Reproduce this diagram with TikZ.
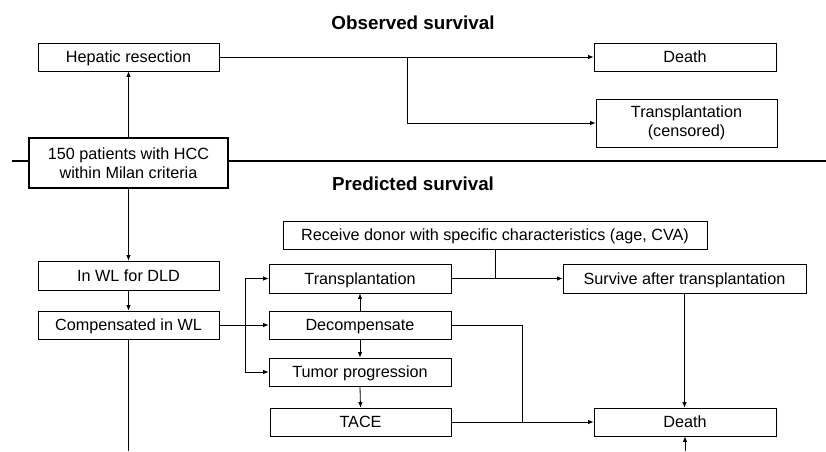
\documentclass[tikz,border=0pt]{standalone}
\usepackage{fontspec}
\setmainfont{Liberation Sans}
\usetikzlibrary{arrows.meta}
\begin{document}
\begin{tikzpicture}[x=1pt,y=-1pt,
  box/.style={draw, line width=0.8pt, inner sep=0pt, fill=white, align=center,
    font=\fontsize{16.2}{19}\selectfont},
  one/.style={box, text height=11.6pt, text depth=0pt},
  arr/.style={-{Latex[length=5.5pt,width=4.5pt]}, line width=0.8pt},
  ln/.style={line width=0.8pt},
  ttl/.style={font=\fontsize{18.8}{22}\selectfont\bfseries}]
\useasboundingbox (0,0) rectangle (826,451);
\node[ttl] (t1) at (413,23) {Observed survival};
\node[ttl] (t2) at (413,184) {Predicted survival};
\coordinate (sepL) at (12,161);
\coordinate (sepR) at (826,161);
\draw[line width=1.6pt] (sepL) -- (sepR);
\node[one, minimum width=181pt, minimum height=28pt] (hep) at (128.5,57) {Hepatic resection};
\node[one, minimum width=182pt, minimum height=28pt] (d1) at (685,57) {Death};
\node[box, minimum width=181pt, minimum height=48pt] (tc) at (686.5,123) {Transplantation\\(censored)};
\node[box, line width=1.6pt, minimum width=199pt, minimum height=50pt] (p150) at (128.5,163) {150 patients with HCC\\within Milan criteria};
\node[one, minimum width=181pt, minimum height=29pt] (wl) at (128.5,275.5) {In WL for DLD};
\node[one, minimum width=181pt, minimum height=28pt] (comp) at (128.5,325) {Compensated in WL};
\node[one, minimum width=424pt, minimum height=28pt] (rd) at (495,235) {Receive donor with specific characteristics (age, CVA)};
\node[one, minimum width=182pt, minimum height=29pt] (tr) at (360,278.5) {Transplantation};
\node[one, minimum width=182pt, minimum height=28pt] (dec) at (360,325) {Decompensate};
\node[one, minimum width=182pt, minimum height=28pt] (tum) at (360,372) {Tumor progression};
\node[one, minimum width=181pt, minimum height=28pt] (tace) at (360.5,422) {TACE};
\node[one, minimum width=243pt, minimum height=29pt] (surv) at (684.5,278.5) {Survive after transplantation};
\node[one, minimum width=182pt, minimum height=28pt] (d2) at (685,422) {Death};
% observed
\draw[arr] (p150.north) -- (hep.south);
\draw[arr] (hep.east) -- (d1.west);
\coordinate (b1) at (407,57);
\draw[arr] (b1) |- (tc.west);
% predicted
\draw[arr] (p150.south) -- (wl.north);
\draw[arr] (wl.south) -- (comp.north);
\coordinate (cbot) at (128.5,451);
\draw[ln] (comp.south) -- (cbot);
\draw[arr] (comp.east) -- (dec.west);
\coordinate (b2) at (245,325);
\draw[arr] (b2) |- (tr.west);
\draw[arr] (b2) |- (tum.west);
\draw[arr] (dec.north) -- (tr.south);
\draw[arr] (dec.south) -- (tum.north);
\draw[arr] (tum.south) -- (tace.north);
\draw[arr] (tr.east) -- (surv.west);
\draw[ln] (rd.south) -- (rd.south |- tr.east);
\coordinate (b3) at (522,422);
\draw[ln] (dec.east) -| (b3);
\draw[arr] (tace.east) -- (d2.west);
\draw[arr] (surv.south) -- (surv.south |- d2.north);
\coordinate (dbot) at (685,451);
\draw[arr] (dbot) -- (d2.south);
\end{tikzpicture}
\end{document}
